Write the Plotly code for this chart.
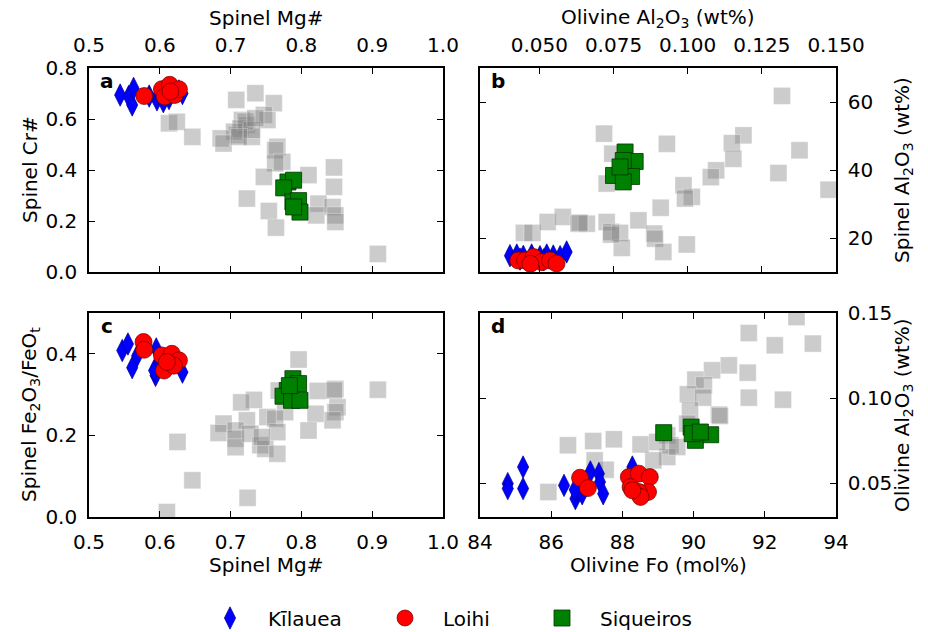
import plotly.graph_objects as go

# ---------------- data ----------------
# Panel a: Spinel Mg# vs Spinel Cr#
KIL_A_MG = [0.544, 0.556, 0.561, 0.563, 0.596, 0.599, 0.613, 0.627, 0.632, 0.585, 0.605]
KIL_A_CR = [0.694, 0.688, 0.655, 0.720, 0.675, 0.700, 0.680, 0.710, 0.700, 0.690, 0.668]
LOI_A_MG = [0.578, 0.603, 0.614, 0.607, 0.621, 0.627, 0.615]
LOI_A_CR = [0.690, 0.717, 0.734, 0.688, 0.694, 0.717, 0.708]
SIQ_A_MG = [0.781, 0.789, 0.775, 0.788, 0.796, 0.798, 0.789]
SIQ_A_CR = [0.353, 0.360, 0.330, 0.275, 0.280, 0.235, 0.255]
OTH_A_MG = [0.708, 0.735, 0.761, 0.747, 0.752, 0.716, 0.723, 0.714, 0.709, 0.730, 0.730, 0.705,
            0.686, 0.690, 0.613, 0.624, 0.646, 0.766, 0.763, 0.773, 0.763, 0.747, 0.810, 0.846,
            0.846, 0.723, 0.754, 0.764, 0.824, 0.821, 0.844, 0.848, 0.848, 0.908, 0.721, 0.735,
            0.712]
OTH_A_CR = [0.675, 0.701, 0.662, 0.616, 0.596, 0.596, 0.576, 0.563, 0.537, 0.530, 0.557, 0.550,
            0.524, 0.504, 0.583, 0.589, 0.530, 0.491, 0.478, 0.432, 0.426, 0.373, 0.380, 0.410,
            0.334, 0.288, 0.239, 0.174, 0.268, 0.222, 0.255, 0.222, 0.196, 0.071, 0.590, 0.603,
            0.530]

# Panel b: Olivine Al2O3 vs Spinel Al2O3
KIL_B_OLAL = [0.0401, 0.0424, 0.0446, 0.0474, 0.0502, 0.0525, 0.0547, 0.0570, 0.0592, 0.0435, 0.0515]
KIL_B_SPAL = [14.8, 15.0, 14.6, 15.0, 14.5, 15.0, 14.7, 14.5, 15.9, 13.8, 13.6]
LOI_B_OLAL = [0.0429, 0.0452, 0.0480, 0.0508, 0.0536, 0.0558, 0.0470]
LOI_B_SPAL = [13.4, 13.4, 14.4, 12.9, 13.4, 12.5, 12.4]
SIQ_B_OLAL = [0.0789, 0.0823, 0.0783, 0.0750, 0.0811, 0.0783, 0.0772]
SIQ_B_SPAL = [45.3, 42.5, 42.8, 38.4, 38.1, 36.5, 40.9]
OTH_B_OLAL = [0.1318, 0.0718, 0.0930, 0.1188, 0.1149, 0.1154, 0.1377, 0.1306, 0.1475, 0.1096,
              0.1078, 0.0986, 0.1014, 0.0991, 0.0909, 0.0727, 0.0746, 0.0834, 0.0448, 0.0477,
              0.0528, 0.0579, 0.0632, 0.0660, 0.0727, 0.0742, 0.0772, 0.0778, 0.0887, 0.0890,
              0.0918, 0.0997, 0.0742, 0.0636]
OTH_B_SPAL = [61.8, 50.7, 47.7, 50.2, 47.9, 43.3, 45.8, 39.1, 34.2, 39.9,
              37.9, 35.5, 32.1, 31.6, 28.9, 36.0, 44.8, 25.2, 21.5, 21.5,
              24.7, 26.2, 24.2, 24.2, 24.7, 21.8, 21.5, 17.1, 21.3, 19.8,
              15.9, 18.1, 21.0, 24.5]

# Panel c: Spinel Mg# vs Spinel Fe2O3/FeOt
KIL_C_MG = [0.547, 0.555, 0.561, 0.595, 0.594, 0.592, 0.632, 0.600, 0.568]
KIL_C_FE = [0.408, 0.424, 0.366, 0.412, 0.347, 0.359, 0.355, 0.380, 0.395]
LOI_C_MG = [0.577, 0.578, 0.603, 0.617, 0.627, 0.606, 0.620, 0.610]
LOI_C_FE = [0.429, 0.410, 0.396, 0.400, 0.384, 0.359, 0.371, 0.380]
SIQ_C_MG = [0.788, 0.796, 0.780, 0.774, 0.786, 0.798, 0.783]
SIQ_C_FE = [0.339, 0.327, 0.310, 0.296, 0.286, 0.286, 0.322]
OTH_C_MG = [0.796, 0.848, 0.908, 0.823, 0.846, 0.851, 0.848, 0.844, 0.820, 0.810, 0.768, 0.777,
            0.733, 0.715, 0.723, 0.752, 0.763, 0.766, 0.690, 0.683, 0.707, 0.707, 0.707, 0.728,
            0.742, 0.749, 0.766, 0.744, 0.625, 0.646, 0.724, 0.610]
OTH_C_FE = [0.386, 0.314, 0.312, 0.309, 0.310, 0.269, 0.257, 0.237, 0.253, 0.212, 0.310, 0.257,
            0.287, 0.281, 0.237, 0.245, 0.241, 0.208, 0.229, 0.206, 0.212, 0.192, 0.171, 0.204,
            0.176, 0.167, 0.155, 0.196, 0.184, 0.090, 0.047, 0.012]

# Panel d: Olivine Fo vs Olivine Al2O3
KIL_D_FO = [84.78, 84.78, 85.21, 85.21, 86.36, 86.68, 86.73, 86.92, 87.10, 87.34, 87.37, 87.46,
            86.87, 88.28, 86.66]
KIL_D_AL = [0.0496, 0.0467, 0.0594, 0.0467, 0.0486, 0.0408, 0.0457, 0.0476, 0.0565, 0.0555,
            0.0506, 0.0437, 0.0437, 0.0594, 0.0460]
LOI_D_FO = [86.81, 87.03, 88.18, 88.46, 88.77, 88.23, 88.72, 88.46, 88.51, 88.28]
LOI_D_AL = [0.0531, 0.0470, 0.0535, 0.0555, 0.0535, 0.0476, 0.0447, 0.0447, 0.0418, 0.0457]
SIQ_D_FO = [89.16, 89.93, 90.05, 90.48, 89.96, 90.19]
SIQ_D_AL = [0.0796, 0.0829, 0.0751, 0.0784, 0.0790, 0.0800]
OTH_D_FO = [92.89, 91.55, 92.28, 93.35, 90.99, 90.52, 90.05, 90.29, 89.84, 90.27, 91.52, 91.55,
            92.51, 89.90, 90.71, 90.74, 89.82, 89.26, 89.35, 89.26, 88.87, 88.51, 87.76, 87.18,
            86.47, 87.22, 87.53, 85.92, 88.98, 89.54]
OTH_D_AL = [0.1476, 0.1382, 0.1310, 0.1320, 0.1192, 0.1163, 0.1108, 0.1075, 0.1022, 0.1002,
            0.1149, 0.1002, 0.0990, 0.0927, 0.0902, 0.0895, 0.0849, 0.0780, 0.0722, 0.0653,
            0.0633, 0.0727, 0.0757, 0.0747, 0.0722, 0.0633, 0.0578, 0.0447, 0.0741, 0.0712]

GROUPS = ["Kīlauea", "Loihi", "Siqueiros"]

# ---------------- styles ----------------
FONT = "DejaVu Sans"
FS = 20
W, H = 928, 632

def px_x(p):
    return p / W

def px_y(p):
    return 1 - p / H

XL = [px_x(89), px_x(443)]
XR = [px_x(480), px_x(836)]
YT = [px_y(272), px_y(68)]
YB = [px_y(517), px_y(313)]

gray_marker = dict(symbol="square", size=17, color="rgba(128,128,128,0.4)",
                   line=dict(color="rgba(255,255,255,0.35)", width=1))
kil_marker = dict(symbol="diamond-tall", size=16, color="#0000ff",
                  line=dict(color="#00008b", width=0.7))
loi_marker = dict(symbol="circle", size=17, color="#ff0000",
                  line=dict(color="#6b0000", width=0.7))
siq_marker = dict(symbol="square", size=16, color="#008000",
                  line=dict(color="#003300", width=0.8))

fig = go.Figure()

panels = [
    ("x", "y", OTH_A_MG, OTH_A_CR, KIL_A_MG, KIL_A_CR, LOI_A_MG, LOI_A_CR, SIQ_A_MG, SIQ_A_CR),
    ("x2", "y2", OTH_B_OLAL, OTH_B_SPAL, KIL_B_OLAL, KIL_B_SPAL, LOI_B_OLAL, LOI_B_SPAL, SIQ_B_OLAL, SIQ_B_SPAL),
    ("x3", "y3", OTH_C_MG, OTH_C_FE, KIL_C_MG, KIL_C_FE, LOI_C_MG, LOI_C_FE, SIQ_C_MG, SIQ_C_FE),
    ("x4", "y4", OTH_D_FO, OTH_D_AL, KIL_D_FO, KIL_D_AL, LOI_D_FO, LOI_D_AL, SIQ_D_FO, SIQ_D_AL),
]

for i, (xa, ya, ox, oy, kx, ky, lx, ly, sx, sy) in enumerate(panels):
    first = i == 0
    fig.add_trace(go.Scatter(x=ox, y=oy, xaxis=xa, yaxis=ya, mode="markers",
                             marker=gray_marker, showlegend=False, hoverinfo="skip"))
    fig.add_trace(go.Scatter(x=kx, y=ky, xaxis=xa, yaxis=ya, mode="markers", name=GROUPS[0],
                             marker=kil_marker, showlegend=first, legend="legend"))
    fig.add_trace(go.Scatter(x=lx, y=ly, xaxis=xa, yaxis=ya, mode="markers", name=GROUPS[1],
                             marker=loi_marker, showlegend=first, legend="legend2"))
    fig.add_trace(go.Scatter(x=sx, y=sy, xaxis=xa, yaxis=ya, mode="markers", name=GROUPS[2],
                             marker=siq_marker, showlegend=first, legend="legend3"))

ax_common = dict(showline=True, linecolor="black", linewidth=1.6, mirror="allticks",
                 ticks="inside", ticklen=6, tickwidth=1.3, tickcolor="black",
                 showgrid=False, zeroline=False, automargin=False,
                 tickfont=dict(family=FONT, size=FS, color="black"),
                 ticklabelstandoff=6)

fig.update_layout(
    template="none",
    width=W, height=H,
    margin=dict(l=0, r=0, t=0, b=0, autoexpand=False),
    paper_bgcolor="white", plot_bgcolor="white",
    font=dict(family=FONT, size=FS, color="black"),
    xaxis=dict(domain=XL, anchor="y", side="top", range=[0.5, 1.0],
               tickvals=[0.5, 0.6, 0.7, 0.8, 0.9, 1.0],
               ticktext=["0.5", "0.6", "0.7", "0.8", "0.9", "1.0"], **ax_common),
    yaxis=dict(domain=YT, anchor="x", range=[0, 0.8],
               tickvals=[0, 0.2, 0.4, 0.6, 0.8],
               ticktext=["0.0", "0.2", "0.4", "0.6", "0.8"], **ax_common),
    xaxis2=dict(domain=XR, anchor="y2", side="top", range=[0.03, 0.15],
                tickvals=[0.05, 0.075, 0.1, 0.125, 0.15],
                ticktext=["0.050", "0.075", "0.100", "0.125", "0.150"], **ax_common),
    yaxis2=dict(domain=YT, anchor="x2", side="right", range=[10, 70],
                tickvals=[20, 40, 60], **ax_common),
    xaxis3=dict(domain=XL, anchor="y3", range=[0.5, 1.0],
                tickvals=[0.5, 0.6, 0.7, 0.8, 0.9, 1.0],
                ticktext=["0.5", "0.6", "0.7", "0.8", "0.9", "1.0"], **ax_common),
    yaxis3=dict(domain=YB, anchor="x3", range=[0, 0.5],
                tickvals=[0, 0.2, 0.4], ticktext=["0.0", "0.2", "0.4"], **ax_common),
    xaxis4=dict(domain=XR, anchor="y4", range=[84, 94],
                tickvals=[84, 86, 88, 90, 92, 94], **ax_common),
    yaxis4=dict(domain=YB, anchor="x4", side="right", range=[0.03, 0.15],
                tickvals=[0.05, 0.10, 0.15], ticktext=["0.05", "0.10", "0.15"], **ax_common),
)

leg_common = dict(orientation="h", yanchor="middle", y=px_y(618), xanchor="left",
                  itemwidth=66, bgcolor="rgba(0,0,0,0)", borderwidth=0,
                  font=dict(family=FONT, size=FS, color="black"))
fig.update_layout(
    legend=dict(x=px_x(230 - 38), **leg_common),
    legend2=dict(x=px_x(404 - 37), **leg_common),
    legend3=dict(x=px_x(563 - 39), **leg_common),
)

# axis titles and panel letters
ann = [
    dict(text="Spinel Mg#", x=px_x(266), y=px_y(18)),
    dict(text="Olivine Al<sub>2</sub>O<sub>3</sub> (wt%)", x=px_x(658), y=px_y(18)),
    dict(text="Spinel Cr#", x=px_x(30), y=px_y(170), textangle=-90),
    dict(text="Spinel Al<sub>2</sub>O<sub>3</sub> (wt%)", x=px_x(903), y=px_y(170), textangle=-90),
    dict(text="Spinel Fe<sub>2</sub>O<sub>3</sub>/FeO<sub>t</sub>", x=px_x(30), y=px_y(415), textangle=-90),
    dict(text="Olivine Al<sub>2</sub>O<sub>3</sub> (wt%)", x=px_x(903), y=px_y(415), textangle=-90),
    dict(text="Spinel Mg#", x=px_x(266), y=px_y(565)),
    dict(text="Olivine Fo (mol%)", x=px_x(658), y=px_y(565)),
    dict(text="<b>a</b>", x=px_x(107), y=px_y(81)),
    dict(text="<b>b</b>", x=px_x(498), y=px_y(81)),
    dict(text="<b>c</b>", x=px_x(107), y=px_y(326)),
    dict(text="<b>d</b>", x=px_x(498), y=px_y(326)),
]
for a in ann:
    a.update(xref="paper", yref="paper", showarrow=False, xanchor="center", yanchor="middle",
             font=dict(family=FONT, size=FS, color="black"))
fig.update_layout(annotations=ann)

fig.write_html("out.html", config={"displayModeBar": False},
               post_script="document.body.style.margin='0';document.body.style.padding='0';")
